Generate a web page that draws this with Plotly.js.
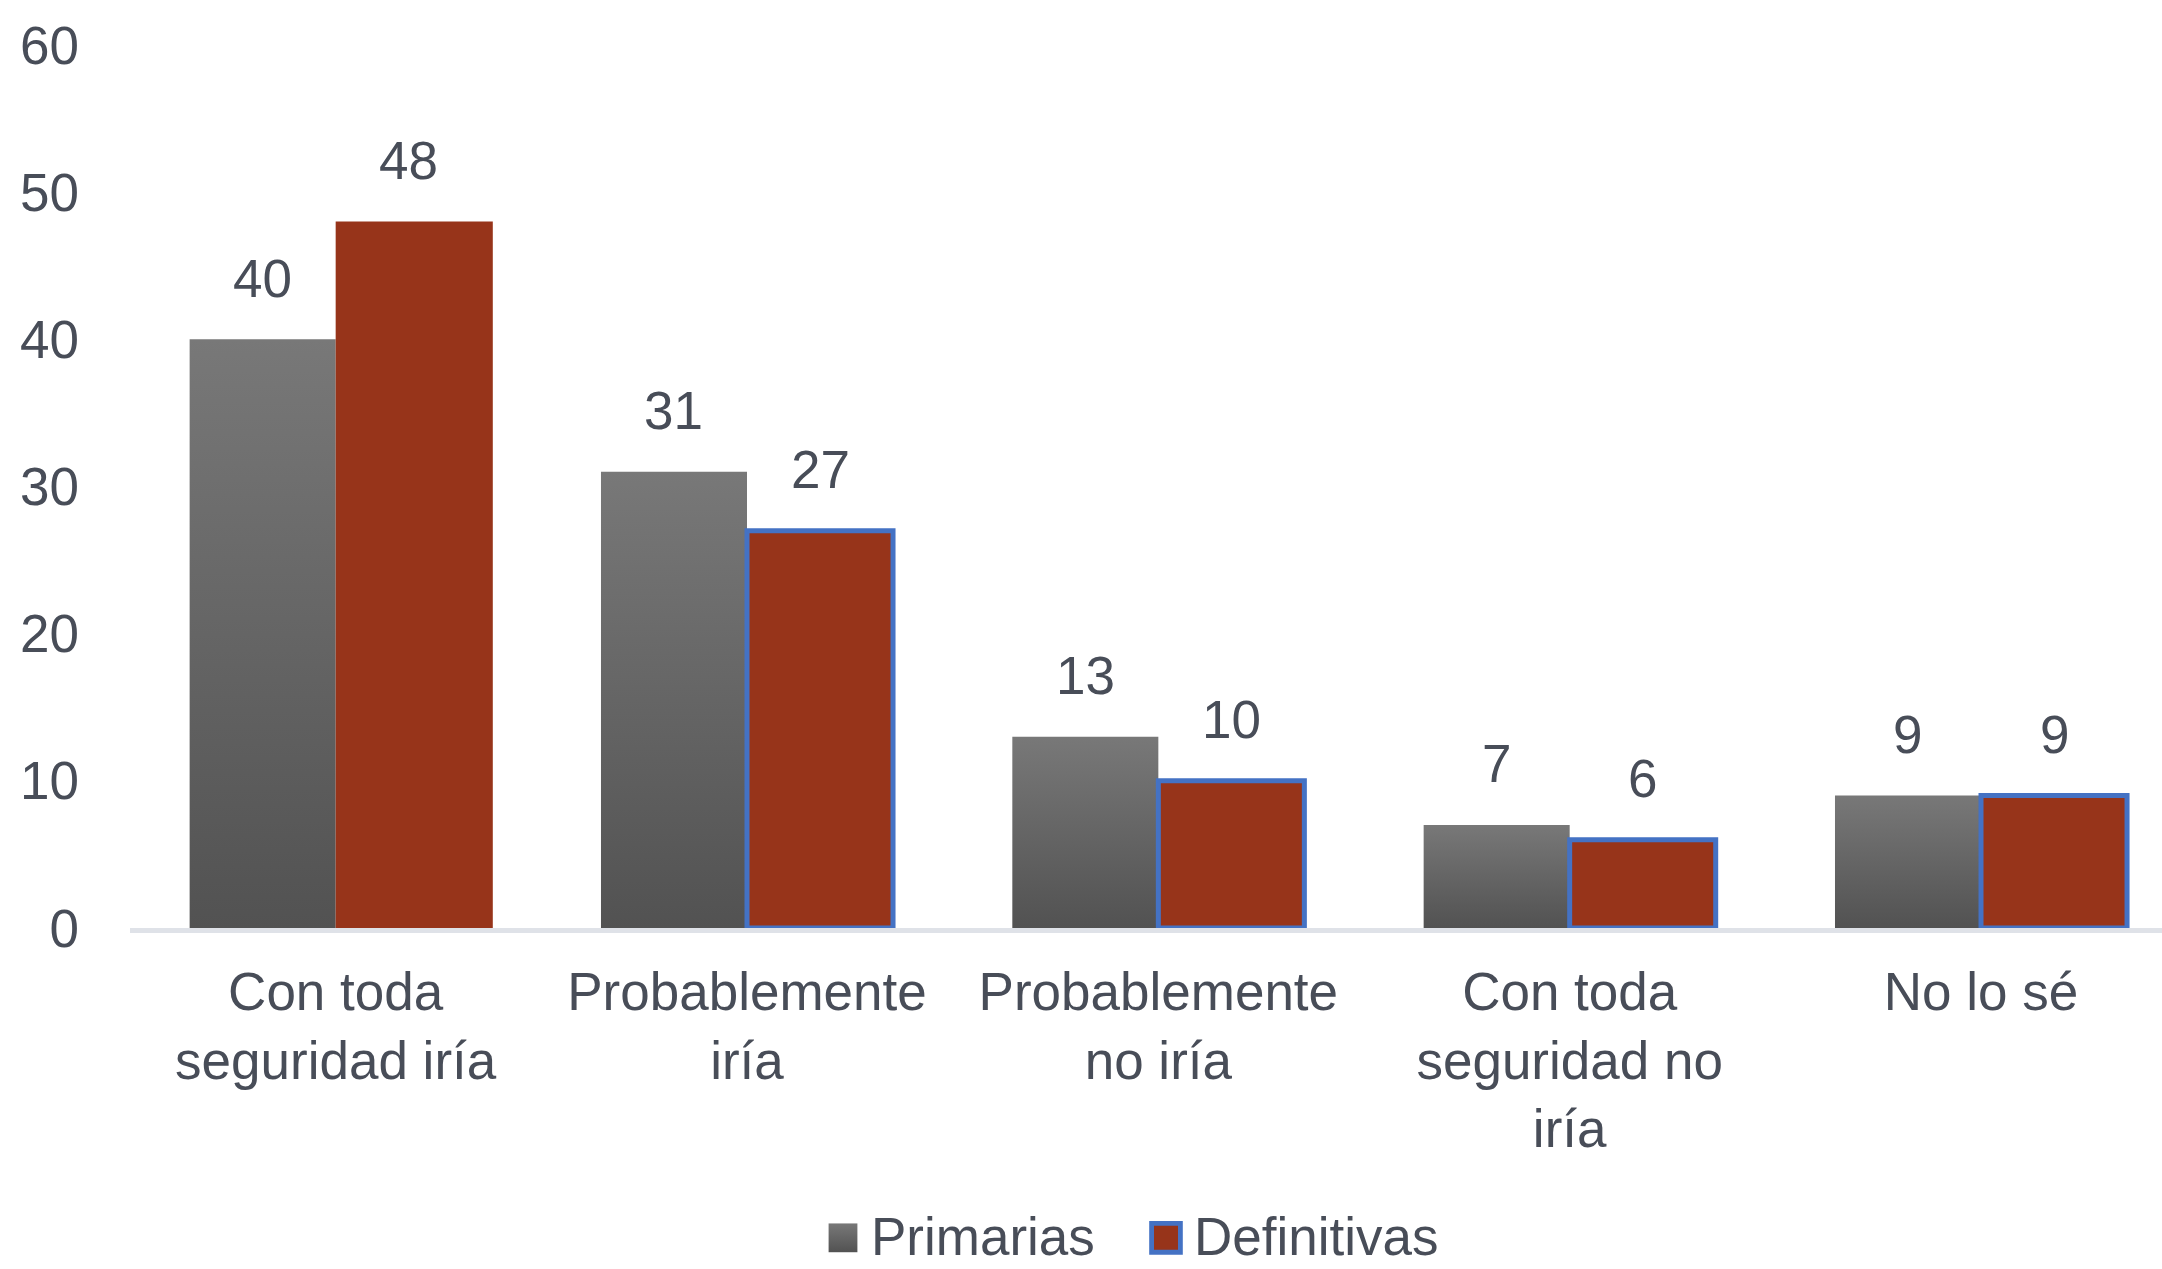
<!DOCTYPE html>
<html>
<head>
<meta charset="utf-8">
<script src="https://cdn.plot.ly/plotly-3.0.1.min.js"></script>
<style>
  html, body { margin: 0; padding: 0; background: #ffffff; }
  #chart { width: 2162px; height: 1269px; }
</style>
</head>
<body>
<div id="chart"></div>
<script>
// ---- Data ----
const categories = ['Con toda<br>seguridad iría', 'Probablemente<br>iría', 'Probablemente<br>no iría', 'Con toda<br>seguridad no<br>iría', 'No lo sé'];
const primarias = [40, 31, 13, 7, 9];
const definitivas = [48, 27, 10, 6, 9];
const seriesNames = ['Primarias', 'Definitivas'];
const yTicks = [0, 10, 20, 30, 40, 50, 60];

// ---- Style ----
const FONT = 'Liberation Sans, Arial, sans-serif';
const TEXT = '#484d58';
const GREY = '#656565';
const RED = '#97341a';
const BLUE = '#4472c4';
const FS = 53;

const barFrac = 0.355;          // bar width as fraction of category
const firstRedFrac = 0.382;     // first red bar drawn slightly wider (as in reference)
const marginL = 130, marginT = 45, plotH = 883;
const W = 2162, H = 1269;
const xRange = [-0.5, 4.44];
const pxPerCat = (W - marginL) / (xRange[1] - xRange[0]);
const barW = pxPerCat * barFrac;

const traces = [
  {
    type: 'bar', name: seriesNames[0], x: categories, y: primarias,
    width: primarias.map(() => barFrac),
    offset: primarias.map(() => -barFrac),
    marker: { color: GREY, line: { width: 0 } },
    hoverinfo: 'skip'
  },
  {
    type: 'bar', name: seriesNames[1], x: categories, y: definitivas,
    width: definitivas.map((v, i) => i === 0 ? firstRedFrac : barFrac),
    offset: definitivas.map(() => 0),
    marker: { color: RED, line: { color: BLUE, width: definitivas.map((v, i) => i === 0 ? 0 : 5) } },
    hoverinfo: 'skip'
  }
];

const annotations = [];
[primarias, definitivas].forEach((series, si) => {
  series.forEach((v, i) => {
    annotations.push({
      x: categories[i], y: v, xref: 'x', yref: 'y',
      text: String(v), showarrow: false,
      xshift: (si === 0 ? -1 : 1) * barW / 2,
      yshift: 61, yanchor: 'middle', xanchor: 'center',
      font: { family: FONT, size: FS, color: TEXT }
    });
  });
});

const layout = {
  width: W, height: H,
  margin: { l: marginL, r: 0, t: marginT, b: H - marginT - plotH, pad: 0, autoexpand: false },
  paper_bgcolor: '#ffffff', plot_bgcolor: '#ffffff',
  barmode: 'group',
  font: { family: FONT, size: FS, color: TEXT },
  showlegend: true,
  legend: {
    orientation: 'h', x: 0.5, xanchor: 'center', y: -0.30, yanchor: 'middle',
    font: { family: FONT, size: FS, color: TEXT },
    itemclick: false, itemdoubleclick: false, traceorder: 'normal'
  },
  xaxis: {
    type: 'category', range: xRange, fixedrange: true,
    showline: true, linecolor: '#dfe2e8', linewidth: 5,
    showgrid: false, zeroline: false, ticks: '',
    ticklabelstandoff: 13,
    tickfont: { family: FONT, size: FS, color: TEXT }
  },
  yaxis: {
    range: [0, 60], tickvals: yTicks, ticktext: yTicks.map(String), fixedrange: true,
    showline: false, showgrid: false, zeroline: false, ticks: '',
    ticklabelstandoff: 50,
    tickfont: { family: FONT, size: FS, color: TEXT }
  },
  annotations: annotations
};

function shiftTransform(el, dx, dy) {
  const t = el.getAttribute('transform') || '';
  const m = t.match(/translate\(\s*([-\d.e]+)[ ,]+([-\d.e]+)\s*\)/);
  let x = 0, y = 0;
  if (m) { x = parseFloat(m[1]); y = parseFloat(m[2]); }
  el.setAttribute('transform', 'translate(' + (x + dx) + ',' + (y + dy) + ')');
}

Plotly.newPlot('chart', traces, layout, { displayModeBar: false, staticPlot: true }).then(function (gd) {
  // Vertical gradient for grey bars
  const svgNS = 'http://www.w3.org/2000/svg';
  const svg = gd.querySelector('.main-svg');
  let defs = svg.querySelector('defs');
  if (!defs) { defs = document.createElementNS(svgNS, 'defs'); svg.insertBefore(defs, svg.firstChild); }
  const grad = document.createElementNS(svgNS, 'linearGradient');
  grad.setAttribute('id', 'greyGrad');
  grad.setAttribute('x1', '0'); grad.setAttribute('y1', '0');
  grad.setAttribute('x2', '0'); grad.setAttribute('y2', '1');
  [['0%', '#787878'], ['100%', '#525252']].forEach(function (s) {
    const st = document.createElementNS(svgNS, 'stop');
    st.setAttribute('offset', s[0]); st.setAttribute('stop-color', s[1]);
    grad.appendChild(st);
  });
  defs.appendChild(grad);
  const barTraces = gd.querySelectorAll('.barlayer .trace');
  if (barTraces[0]) barTraces[0].querySelectorAll('path').forEach(function (p) { p.style.fill = 'url(#greyGrad)'; });

  // Legend: larger symbols and positions as in reference
  gd.querySelectorAll('.legend .scrollbox').forEach(function (el) { el.removeAttribute('clip-path'); });
  gd.querySelectorAll('.legend').forEach(function (el) { el.removeAttribute('clip-path'); });
  const legTraces = gd.querySelectorAll('.legend .traces');
  const targetTextLeft = [871, 1194];
  const targetMidY = 1236;
  legTraces.forEach(function (g, i) {
    const p = g.querySelector('.legendpoints path');
    if (p) {
      p.setAttribute('transform', 'translate(12,4) scale(2.4)');
      if (i === 0) { p.style.fill = 'url(#greyGrad)'; p.style.strokeWidth = '0'; }
      else { p.style.stroke = BLUE; p.style.strokeWidth = '2'; p.style.fill = RED; }
    }
    const txt = g.querySelector('.legendtext');
    if (txt) {
      const r = txt.getBoundingClientRect();
      const dx = targetTextLeft[i] - r.left;
      const dy = targetMidY - (r.top + r.bottom) / 2;
      shiftTransform(g, dx, dy);
    }
  });
});
</script>
</body>
</html>
